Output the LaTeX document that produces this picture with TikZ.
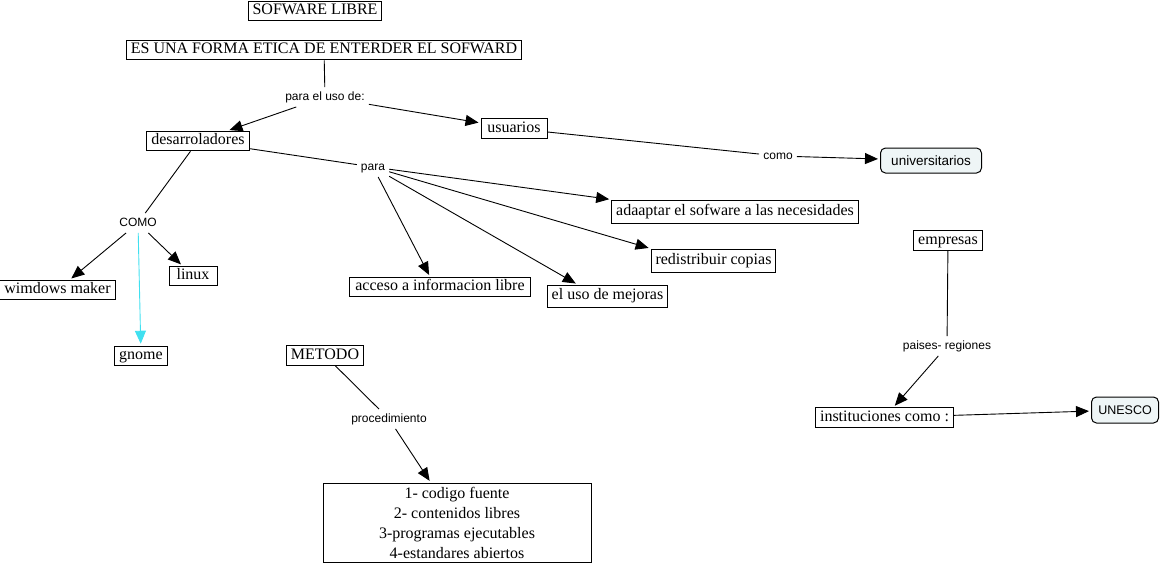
\documentclass[tikz,border=0pt]{standalone}
\usepackage{fontspec}
\setmainfont{Liberation Serif}
\newfontfamily\sansf{Liberation Sans}
\usetikzlibrary{arrows.meta}
\definecolor{gb}{RGB}{238,245,246}
\definecolor{cy}{RGB}{64,224,240}
\tikzset{
  concept/.style={draw,line width=1pt,font=\fontsize{16}{18}\selectfont,text height=11pt,text depth=3.5pt,inner xsep=4.5pt,inner ysep=2.5pt},
  lista/.style={draw,line width=1pt,align=center,font=\fontsize{16}{20}\selectfont,minimum width=268pt,minimum height=79pt},
  redondo/.style={draw,line width=1pt,rounded corners=5pt,fill=gb,font=\sansf\fontsize{13.5}{15}\selectfont,minimum height=25pt,inner xsep=5pt},
  enlace/.style={font=\sansf\fontsize{12}{14}\selectfont,text height=9pt,text depth=2.5pt,inner sep=4pt},
  flecha/.style={line width=0.9pt,-{Triangle[length=13pt,width=11pt]},shorten >=2pt},
  linea/.style={line width=0.9pt}
}

\begin{document}
\begin{tikzpicture}[x=1pt,y=-1pt]
	\useasboundingbox (0,0) rectangle (1161,566);
	\node[concept] (titulo) at (315,11) {SOFWARE LIBRE};
	\node[concept] (forma) at (324,50) {ES UNA FORMA ETICA DE ENTERDER EL SOFWARD};
	\node[enlace] (uso) at (325,97) {para el uso de:};
	\node[concept] (desa) at (198,141) {desarroladores};
	\node[concept,minimum width=66pt] (usua) at (514,128.5) {usuarios};
	\node[enlace] (como) at (778,156) {como};
	\node[redondo,minimum width=101pt] (univ) at (931,160.5) {universitarios};
	\node[enlace] (para) at (373,167) {para};
	\node[concept,minimum height=23pt] (adap) at (735,211.5) {adaaptar el sofware a las necesidades};
	\node[concept,minimum height=23pt] (redis) at (713.5,260.5) {redistribuir copias};
	\node[concept,minimum height=22pt] (mejo) at (607.5,296) {el uso de mejoras};
	\node[concept,minimum width=181pt] (acce) at (440,287) {acceso a informacion libre};
	\node[enlace] (tipos) at (138,223) {COMO};
	\node[concept] (wind) at (57.5,290) {wimdows maker};
	\node[concept,minimum width=48pt] (linux) at (193,276) {linux};
	\node[concept] (gnome) at (141,356) {gnome};
	\node[concept] (meto) at (325,355.5) {METODO};
	\node[enlace] (proc) at (389,419) {procedimiento};
	\node[lista] (pasos) at (457,522.5) {1- codigo fuente\\2- contenidos libres\\3-programas ejecutables\\4-estandares abiertos};
	\node[concept] (empr) at (948,240.5) {empresas};
	\node[enlace] (pais) at (947,346) {paises- regiones};
	\node[concept] (inst) at (884.5,417.5) {instituciones como :};
	\node[redondo,font=\sansf\fontsize{12.5}{14}\selectfont,minimum height=26pt,minimum width=67pt] (unes) at (1125,410) {UNESCO};

	\draw[linea] (forma) -- (uso);
	\draw[flecha] (uso) -- (desa);
	\draw[flecha] (uso) -- (usua);
	\draw[linea] (usua) -- (como);
	\draw[flecha] (como) -- (univ);
	\draw[linea] (desa) -- (para);
	\draw[flecha] (para) -- (adap.north west);
	\draw[flecha] (para) -- (redis.north west);
	\draw[flecha] (para) -- ([xshift=-30pt]mejo.north);
	\draw[flecha] (para) -- ([xshift=-10pt]acce.north);
	\draw[linea] (desa) -- (tipos);
	\draw[flecha] (tipos) -- (wind);
	\draw[flecha] (tipos) -- (linux);
	\draw[flecha,cy] (tipos) -- (gnome);
	\draw[linea] (meto) -- (proc);
	\draw[flecha] (proc) -- (pasos);
	\draw[linea] (empr) -- (pais);
	\draw[flecha] (pais) -- (inst);
	\draw[flecha] (inst) -- (unes);
\end{tikzpicture}
\end{document}
